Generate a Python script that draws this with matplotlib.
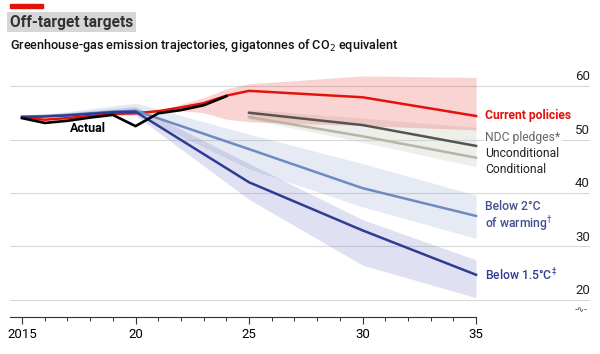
import matplotlib
matplotlib.use("Agg")
import matplotlib.pyplot as plt
from matplotlib import font_manager

# pick a narrow font if available
names = {f.name for f in font_manager.fontManager.ttflist}
FONT = 'Liberation Sans Narrow' if 'Liberation Sans Narrow' in names else 'Roboto'
plt.rcParams['font.family'] = [FONT, 'DejaVu Sans']

# ---- data (gigatonnes CO2e) ----
actual_years = [2015, 2016, 2017, 2018, 2019, 2020, 2021, 2022, 2023, 2024]
actual = [54.0, 53.1, 53.5, 54.1, 54.6, 52.5, 54.9, 55.5, 56.4, 58.1]

current_years = [2015, 2016, 2017, 2018, 2019, 2020, 2021, 2022, 2023, 2024, 2025, 2030, 2035]
current = [54.1, 53.7, 54.0, 54.4, 54.8, 54.9, 55.3, 56.0, 56.8, 58.2, 59.1, 57.9, 54.4]
current_band_years = [2021, 2022, 2023, 2024, 2025, 2030, 2035]
current_lo = [55.3, 55.4, 55.0, 53.8, 53.3, 52.6, 51.8]
current_hi = [55.3, 56.6, 57.8, 59.5, 60.4, 61.9, 61.6]

ndc_years = [2025, 2030, 2035]
ndc_uncond = [55.0, 52.7, 48.8]
ndc_cond = [54.2, 50.6, 46.6]
ndc_lo = [53.8, 49.5, 44.9]
ndc_hi = [55.6, 54.0, 52.3]

blue_years = [2015, 2016, 2017, 2018, 2019, 2020, 2025, 2030, 2035]
below2 = [54.3, 54.4, 54.6, 54.9, 55.2, 55.4, 48.2, 40.9, 35.7]
below15 = [54.2, 54.3, 54.5, 54.8, 55.1, 55.2, 42.0, 33.0, 24.7]

band_years = [2015, 2017, 2019, 2020, 2025, 2030, 2035]
below2_lo = [54.2, 54.4, 54.6, 54.7, 44.5, 37.4, 31.5]
below2_hi = [54.3, 55.2, 56.3, 56.8, 51.0, 45.5, 39.6]
below15_lo = [54.1, 54.3, 54.5, 54.5, 38.8, 26.5, 20.4]
below15_hi = [54.3, 55.0, 55.8, 56.2, 45.5, 35.0, 27.5]

yticks = [20, 30, 40, 50, 60]
xticks = [2015, 2020, 2025, 2030, 2035]
xlabels = ['2015', '20', '25', '30', '35']

RED = '#e3120b'
DARK = '#555550'
COND = '#b8b5a6'
MIDBLUE = '#6f8ac0'
DARKBLUE = '#2f3c94'

fig = plt.figure(figsize=(6, 3.54), dpi=100)
ax = fig.add_axes([10 / 600, 1 - 317 / 354, 580 / 600, 247 / 354])
ax.set_xlim(2014.47, 2040.02)
ax.set_ylim(16.8, 63.0)

for s in ['top', 'right', 'left']:
    ax.spines[s].set_visible(False)
ax.spines['bottom'].set_bounds(2014.47, 2035)
ax.spines['bottom'].set_color('#333333')
ax.spines['bottom'].set_linewidth(0.8)

ax.set_yticks(yticks)
ax.tick_params(axis='y', left=False, labelleft=False)
ax.grid(axis='y', color='#d9d9d9', lw=0.8)
ax.set_axisbelow(True)
for v in yticks:
    ax.text(1.0, v + 0.5, str(v), transform=ax.get_yaxis_transform(),
            ha='right', va='bottom', fontsize=9.5, color='#222222')
ax.text(0.995, 19.0, '-∿-', transform=ax.get_yaxis_transform(), ha='right', va='top',
        fontsize=6, color='#333333', family='DejaVu Sans')

ax.set_xticks(xticks)
ax.set_xticklabels(xlabels)
ax.set_xticks(range(2015, 2036), minor=True)
ax.tick_params(axis='x', which='major', length=5, width=0.8, color='#333333',
               labelsize=9.5, pad=3)
ax.tick_params(axis='x', which='minor', length=3, width=0.7, color='#333333')

# bands
ax.fill_between(band_years, below2_lo, below2_hi, color='#8ba0d0', alpha=0.22, lw=0)
ax.fill_between(band_years, below15_lo, below15_hi, color='#7076c0', alpha=0.22, lw=0)
ax.fill_between(ndc_years, ndc_lo, ndc_hi, color='#c8c8bc', alpha=0.3, lw=0)
ax.fill_between(current_band_years, current_lo, current_hi, color=RED, alpha=0.18, lw=0)

# lines (red first so the blue paths hide its early years)
ax.plot(current_years, current, color=RED, lw=1.8, solid_joinstyle='round')
ax.plot(ndc_years, ndc_cond, color=COND, lw=1.8)
ax.plot(ndc_years, ndc_uncond, color=DARK, lw=1.8)
ax.plot(blue_years, below2, color=MIDBLUE, lw=1.8)
ax.plot(blue_years, below15, color=DARKBLUE, lw=1.8)
ax.plot(actual_years, actual, color='black', lw=1.9, solid_joinstyle='round')

# labels
fs = 8.7
bg = dict(facecolor='white', edgecolor='none', pad=1)
ax.text(2017.9, 52.0, 'Actual', fontsize=9, fontweight='bold', ha='center', va='center')
ax.text(2035.4, 54.5, 'Current policies', color=RED, fontsize=fs, fontweight='bold', va='center')
ax.text(2035.4, 50.3, 'NDC pledges*', color='#666666', fontsize=fs, va='center', bbox=bg)
ax.text(2035.4, 47.4, 'Unconditional', color='#222222', fontsize=fs, va='center')
ax.text(2035.4, 44.4, 'Conditional', color='#222222', fontsize=fs, va='center')
ax.text(2035.4, 35.5, 'Below 2°C\nof warming$^{†}$', color='#42508f', fontsize=fs,
        fontweight='medium', va='center', linespacing=1.05)
ax.text(2035.4, 24.6, 'Below 1.5°C$^{‡}$', color=DARKBLUE, fontsize=fs,
        fontweight='medium', va='center')

# header
fig.patches.append(plt.Rectangle((10 / 600, 1 - 8 / 354), 33 / 600, 4 / 354,
                                 transform=fig.transFigure, color=RED))
fig.text(10 / 600, 1 - 22 / 354, 'Off-target targets', fontsize=11.2, fontweight='bold',
         color='#333333', va='center',
         bbox=dict(facecolor='#d6d6d6', edgecolor='none', pad=2))
fig.text(10 / 600, 1 - 46 / 354, 'Greenhouse-gas emission trajectories, gigatonnes of CO$_2$ equivalent',
         fontsize=9.1, fontweight='medium', va='center', color='#111111')

fig.savefig('out.png', dpi=100)
